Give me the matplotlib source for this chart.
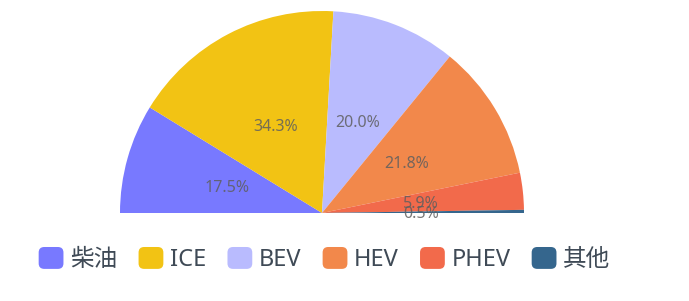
import matplotlib
matplotlib.use('Agg')
import matplotlib.pyplot as plt
from matplotlib.patches import FancyBboxPatch, Patch
from matplotlib.legend_handler import HandlerPatch
import numpy as np

plt.rcParams['font.family'] = ['Noto Sans', 'Noto Sans CJK SC', 'DejaVu Sans']

categories = ['柴油', 'ICE', 'BEV', 'HEV', 'PHEV', '其他']
shares = [17.5, 34.3, 20.0, 21.8, 5.9, 0.5]
colors = ['#7879ff', '#f2c314', '#b9bbfe', '#f2884b', '#f26a4b', '#35668d']

fig = plt.figure(figsize=(6.89, 3.01), dpi=100)
W, H = 689, 301
# axes mapped so the pie centre sits at (322, 213) px from top, radius ~202 px
r_px = 202
cx, cy = 322, 301 - 213
x0, x1 = -1.01, 1.01
y0, y1 = -0.025, 1.01
ax = fig.add_axes([(cx + x0 * r_px) / W, (cy + y0 * r_px) / H,
                   (x1 - x0) * r_px / W, (y1 - y0) * r_px / H])

# hidden lower half so the visible wedges span 180 degrees
vals = shares + [sum(shares)]
wedges, _ = ax.pie(vals, colors=colors + ['none'], startangle=180,
                   counterclock=False, radius=1.0,
                   wedgeprops=dict(linewidth=0))
wedges[-1].set_visible(False)

for w, s in zip(wedges[:-1], shares):
    mid = np.deg2rad((w.theta1 + w.theta2) / 2)
    ax.text(0.49 * np.cos(mid), 0.49 * np.sin(mid) - 0.01, f'{s:.1f}%',
            ha='center', va='center', fontsize=11.5, color='#5f5f5f',
            alpha=0.85, clip_on=True)

ax.set_xlim(x0, x1)
ax.set_ylim(y0, y1)
ax.set_aspect('auto')
ax.axis('off')


class RoundBox(HandlerPatch):
    def create_artists(self, legend, orig_handle, xdescent, ydescent,
                       width, height, fontsize, trans):
        p = FancyBboxPatch((-xdescent, -ydescent), width, height,
                           boxstyle='round,pad=0,rounding_size=4',
                           facecolor=orig_handle.get_facecolor(),
                           edgecolor='none', transform=trans)
        return [p]


handles = [Patch(facecolor=c, label=l) for c, l in zip(colors, categories)]
fig.legend(handles=handles, loc='center', bbox_to_anchor=(324.5 / W, 1 - 259.5 / H),
           ncol=6, frameon=False, fontsize=17, labelcolor='#3f4a56',
           handlelength=1.05, handleheight=1.05, handletextpad=0.28,
           columnspacing=0.9, borderpad=0, borderaxespad=0,
           handler_map={Patch: RoundBox()})

fig.savefig('out.png', dpi=100)
